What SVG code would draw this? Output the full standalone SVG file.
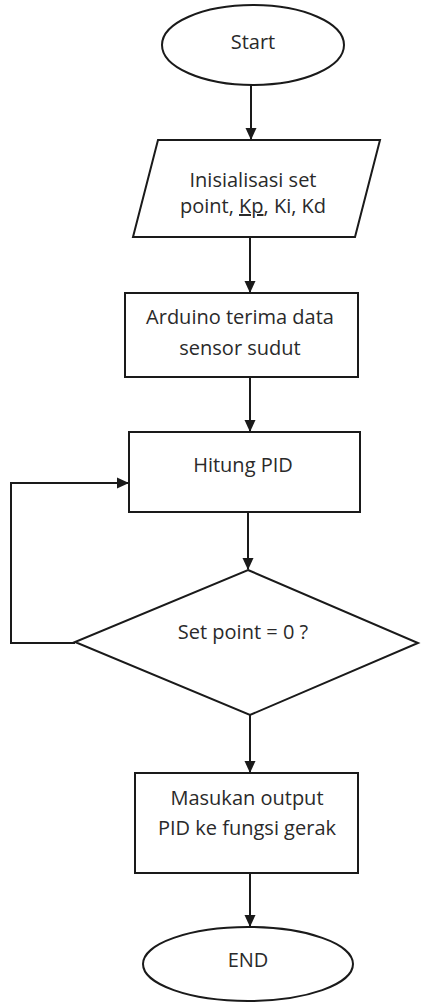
<svg xmlns="http://www.w3.org/2000/svg" width="421" height="1004" viewBox="0 0 421 1004">
<style>
.shape{fill:#fff;stroke:#1a1a1a;stroke-width:2}
.conn{fill:none;stroke:#1a1a1a;stroke-width:2}
.t{font-family:"Open Sans","Liberation Sans",sans-serif;font-size:20px;fill:#2a2a2a;text-anchor:middle}
</style>
<defs>
<marker id="ah" markerWidth="12" markerHeight="12" refX="11" refY="6" orient="auto" markerUnits="userSpaceOnUse">
<path d="M0,0.5 L12,6 L0,11.5 z" fill="#1a1a1a"/>
</marker>
</defs>
<rect width="421" height="1004" fill="#fff"/>
<g id="connectors">
<line class="conn" x1="251" y1="85" x2="251" y2="139" marker-end="url(#ah)"/>
<line class="conn" x1="250" y1="237" x2="250" y2="292" marker-end="url(#ah)"/>
<line class="conn" x1="250" y1="377" x2="250" y2="431" marker-end="url(#ah)"/>
<line class="conn" x1="248" y1="512" x2="248" y2="569" marker-end="url(#ah)"/>
<line class="conn" x1="250" y1="715" x2="250" y2="772" marker-end="url(#ah)"/>
<line class="conn" x1="250" y1="873" x2="250" y2="926" marker-end="url(#ah)"/>
<polyline class="conn" points="75,643 11,643 11,483 128,483" marker-end="url(#ah)"/>
</g>
<g id="start">
<ellipse class="shape" cx="253" cy="45" rx="91" ry="40"/>
<text class="t" x="253" y="49">Start</text>
</g>
<g id="init">
<polygon class="shape" points="158,140 380,140 355,237 133,237"/>
<text class="t" x="253" y="187">Inisialisasi set</text>
<text class="t" x="253" y="213">point, <tspan text-decoration="underline">Kp</tspan>, Ki, Kd</text>
</g>
<g id="arduino">
<rect class="shape" x="125" y="293" width="233" height="84"/>
<text class="t" x="240" y="324">Arduino terima data</text>
<text class="t" x="240" y="355">sensor sudut</text>
</g>
<g id="hitung">
<rect class="shape" x="129" y="432" width="231" height="80"/>
<text class="t" x="243" y="472">Hitung PID</text>
</g>
<g id="decision">
<polygon class="shape" points="248,570 418,643 250,715 75,642"/>
<text class="t" x="243" y="639">Set point = 0 ?</text>
</g>
<g id="masukan">
<rect class="shape" x="135" y="773" width="223" height="100"/>
<text class="t" x="247" y="805">Masukan output</text>
<text class="t" x="247" y="835">PID ke fungsi gerak</text>
</g>
<g id="end">
<ellipse class="shape" cx="248" cy="964" rx="105" ry="37"/>
<text class="t" x="248" y="967">END</text>
</g>
</svg>
